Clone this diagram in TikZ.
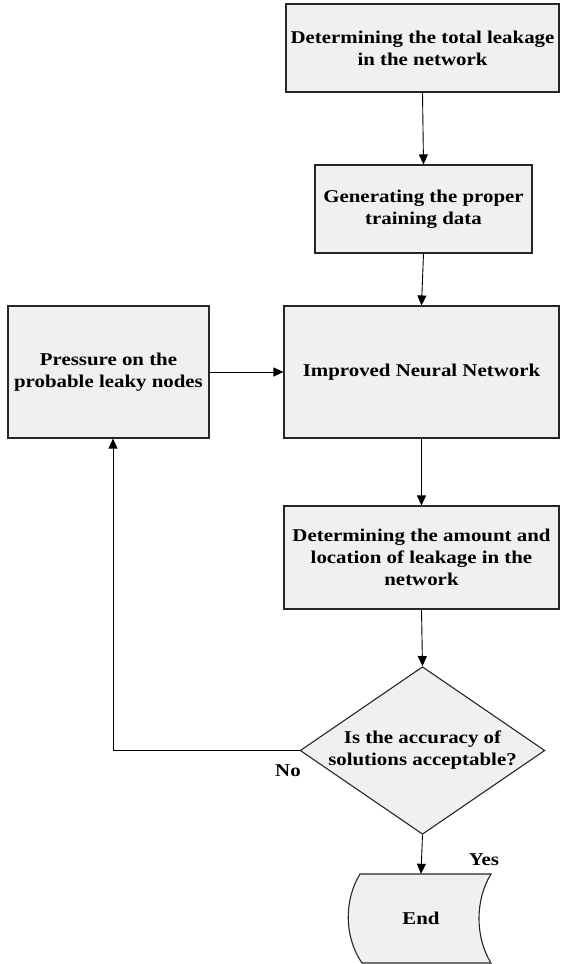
\documentclass[tikz,border=0pt]{standalone}
\usepackage{fontspec}
\setmainfont{Liberation Serif}[FakeStretch=1.16]
\usetikzlibrary{shapes.geometric,arrows.meta}
\begin{document}
\begin{tikzpicture}[x=1pt,y=-1pt,
  every node/.style={font=\fontsize{18}{22}\selectfont\bfseries},
  box/.style={draw=black!85, line width=1.1pt, fill=gray!12, align=center, inner sep=0pt},
  conn/.style={draw=black, line width=0.9pt, -{Triangle[width=9pt,length=10pt]}},
  lbl/.style={inner sep=0pt}]
\useasboundingbox (0,0) rectangle (560,964);
\node[box, minimum width=273pt, minimum height=88pt] (b1) at (422.5,48) {Determining the total leakage\\in the network};
\node[box, minimum width=217pt, minimum height=88pt] (b2) at (423.5,209) {Generating the proper\\training data};
\node[box, minimum width=275pt, minimum height=132pt] (nn) at (421.5,372) {Improved Neural Network};
\node[box, minimum width=201pt, minimum height=132pt] (pr) at (108.5,372) {Pressure on the\\probable leaky nodes};
\node[box, minimum width=275pt, minimum height=103pt] (b4) at (421.5,557.5) {Determining the amount and\\location of leakage in the\\network};
\node[box, shape=diamond, shape aspect=1.46, minimum width=241pt, minimum height=165pt] (dia) at (422.5,750.5) {Is the accuracy of\\solutions acceptable?};
\draw[draw=black!85, line width=1.1pt, fill=gray!12]
  (360,874) -- (491,874) .. controls (475,900) and (475,937) .. (491,963)
  -- (362,963) .. controls (344,937) and (344,900) .. (360,874) -- cycle;
\node[minimum width=131pt, minimum height=89pt, inner sep=0pt] (endn) at (421,918.5) {End};
\draw[conn] (b1.south) -- (b2.north);
\draw[conn] (b2.south) -- (nn.north);
\draw[conn] (pr.east) -- (nn.west);
\draw[conn] (nn.south) -- (b4.north);
\draw[conn] (b4.south) -- (dia.north);
\draw[conn] (dia.south) -- (endn.north);
\draw[conn] (dia.west) -| ([xshift=4.5pt]pr.south);
\node[lbl] (no) at (288,771) {No};
\node[lbl] (yes) at (484,860) {Yes};
\end{tikzpicture}
\end{document}
